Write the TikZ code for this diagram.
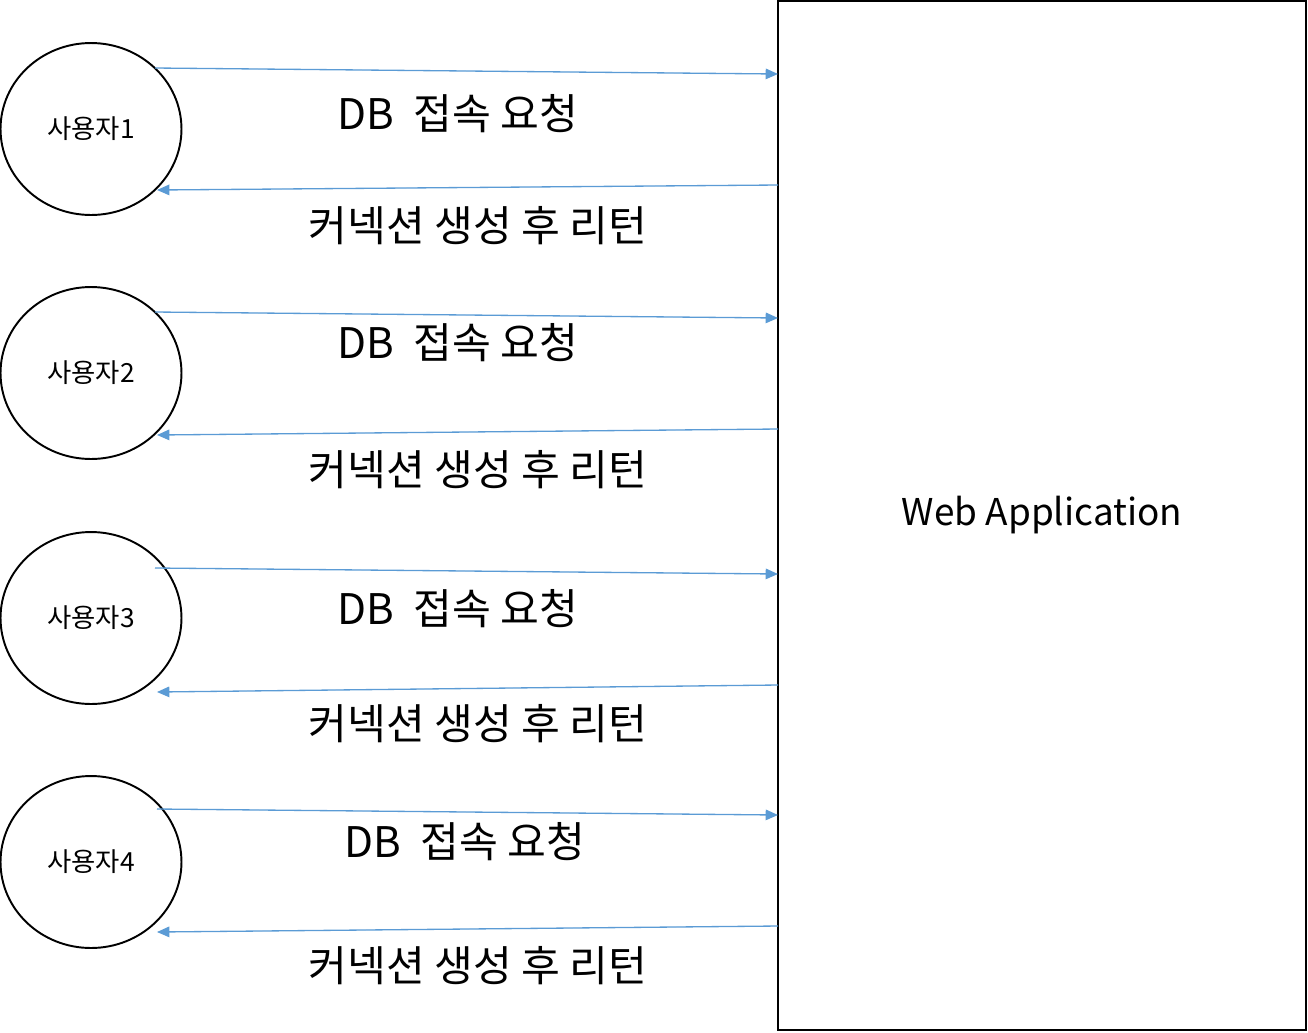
\documentclass[tikz,border=0pt]{standalone}
\usepackage{fontspec}
\setmainfont{Noto Sans CJK KR}
\usetikzlibrary{shapes.geometric,arrows.meta,positioning,calc}
\definecolor{arrblue}{HTML}{5B9BD5}
\tikzstyle{user}  =[ellipse, draw=black, line width=1.1pt, minimum width=3.62cm,
                    minimum height=3.44cm, inner sep=0pt, font=\fontsize{15}{18}\selectfont]
\tikzstyle{app}   =[rectangle, draw=black, line width=1.4pt, minimum width=10.56cm,
                    minimum height=20.58cm, inner sep=0pt, font=\fontsize{21}{25}\selectfont]
\tikzstyle{msg}   =[inner sep=0pt, font=\fontsize{24}{28}\selectfont]
\tikzstyle{arr}   =[-{Triangle[length=7pt,width=6pt]}, line width=0.75pt, draw=arrblue, fill=arrblue]

\begin{document}
\begin{tikzpicture}[x=0.02cm, y=-0.02cm]
  \useasboundingbox (0,0) rectangle (1308,1032);

  % ── users and the application box ───────────────────────────────────────
  \node[user] (u1) at (91,129) {사용자1};
  \node[user] (u2) at (91,373) {사용자2};
  \node[user] (u3) at (91,618) {사용자3};
  \node[user] (u4) at (91,862) {사용자4};
  \node[app]  (web) at (1042,515.5) {Web Application};

  % ── points on the left side of the box ──────────────────────────────────
  \coordinate (req1) at (778,74);   \coordinate (ret1) at (778,185);
  \coordinate (req2) at (778,318);  \coordinate (ret2) at (778,429);
  \coordinate (req3) at (778,574);  \coordinate (ret3) at (778,685);
  \coordinate (req4) at (778,815);  \coordinate (ret4) at (778,926);

  % ── requests and returns ────────────────────────────────────────────────
  \draw[arr] ($(u1)+(64,-61)$) -- (req1);
  \draw[arr] (ret1) -- ($(u1)+(66,61)$);
  \draw[arr] ($(u2)+(64,-61)$) -- (req2);
  \draw[arr] (ret2) -- ($(u2)+(66,62)$);
  \draw[arr] ($(u3)+(64,-50)$) -- (req3);
  \draw[arr] (ret3) -- ($(u3)+(66,74)$);
  \draw[arr] ($(u4)+(66,-53)$) -- (req4);
  \draw[arr] (ret4) -- ($(u4)+(66,70)$);

  % ── labels ──────────────────────────────────────────────────────────────
  \node[msg] (l1a) at (458,114) {DB~~접속 요청};
  \node[msg] (l1b) at (478,226) {커넥션 생성 후 리턴};
  \node[msg] (l2a) at (458,343) {DB~~접속 요청};
  \node[msg] (l2b) at (478,470) {커넥션 생성 후 리턴};
  \node[msg] (l3a) at (458,609) {DB~~접속 요청};
  \node[msg] (l3b) at (478,724) {커넥션 생성 후 리턴};
  \node[msg] (l4a) at (465,842) {DB~~접속 요청};
  \node[msg] (l4b) at (478,966) {커넥션 생성 후 리턴};

\end{tikzpicture}
\end{document}
